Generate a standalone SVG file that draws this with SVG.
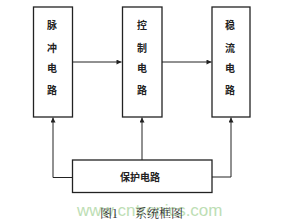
<svg xmlns="http://www.w3.org/2000/svg" width="287" height="224" viewBox="0 0 287 224">
<style>
.box{fill:#fff;stroke:#222;stroke-width:1.3}
.ln{fill:none;stroke:#222;stroke-width:1}
.t{font-family:"Noto Sans CJK SC","Noto Sans",sans-serif;font-size:10px;font-weight:bold;fill:#222;text-anchor:middle}
.cap{font-family:"Noto Serif CJK SC","Noto Sans CJK SC",serif;font-size:12px;fill:#333}
.wm{font-family:"Liberation Sans",Arial,sans-serif;font-size:17px;fill:#a8d49c;opacity:0.75}
</style>
<defs>
<marker id="ah" viewBox="0 0 10 10" refX="10" refY="5" markerWidth="7" markerHeight="5" orient="auto" markerUnits="userSpaceOnUse">
<path d="M0,0 L10,5 L0,10 z" fill="#222"/>
</marker>
</defs>
<rect width="287" height="224" fill="#fff"/>
<g id="connectors">
<line class="ln" x1="72.5" y1="62" x2="121.5" y2="62" marker-end="url(#ah)"/>
<line class="ln" x1="162" y1="62" x2="211.5" y2="62" marker-end="url(#ah)"/>
<polyline class="ln" points="72.5,177.5 53,177.5 53,117.5" marker-end="url(#ah)"/>
<line class="ln" x1="142" y1="160" x2="142" y2="117.5" marker-end="url(#ah)"/>
<polyline class="ln" points="212,177 231,177 231,117.5" marker-end="url(#ah)"/>
</g>
<g id="pulse">
<rect class="box" x="33.5" y="7" width="39" height="110"/>
<text class="t" x="52" y="29">脉</text>
<text class="t" x="52" y="52">冲</text>
<text class="t" x="52" y="72">电</text>
<text class="t" x="52" y="94">路</text>
</g>
<g id="control">
<rect class="box" x="122.5" y="7" width="39.5" height="110"/>
<text class="t" x="142" y="29">控</text>
<text class="t" x="142" y="52">制</text>
<text class="t" x="142" y="72">电</text>
<text class="t" x="142" y="94">路</text>
</g>
<g id="steady">
<rect class="box" x="212" y="7" width="38" height="110"/>
<text class="t" x="230" y="29">稳</text>
<text class="t" x="230" y="52">流</text>
<text class="t" x="230" y="72">电</text>
<text class="t" x="230" y="94">路</text>
</g>
<g id="protect">
<rect class="box" x="72.5" y="160" width="139.5" height="32.5"/>
<text class="t" x="140" y="180.5">保护电路</text>
</g>
<text class="wm" x="77" y="216">www.cntronics.com</text>
<text class="cap" x="100" y="218">图1</text>
<text class="cap" x="135" y="218">系统框图</text>
</svg>
